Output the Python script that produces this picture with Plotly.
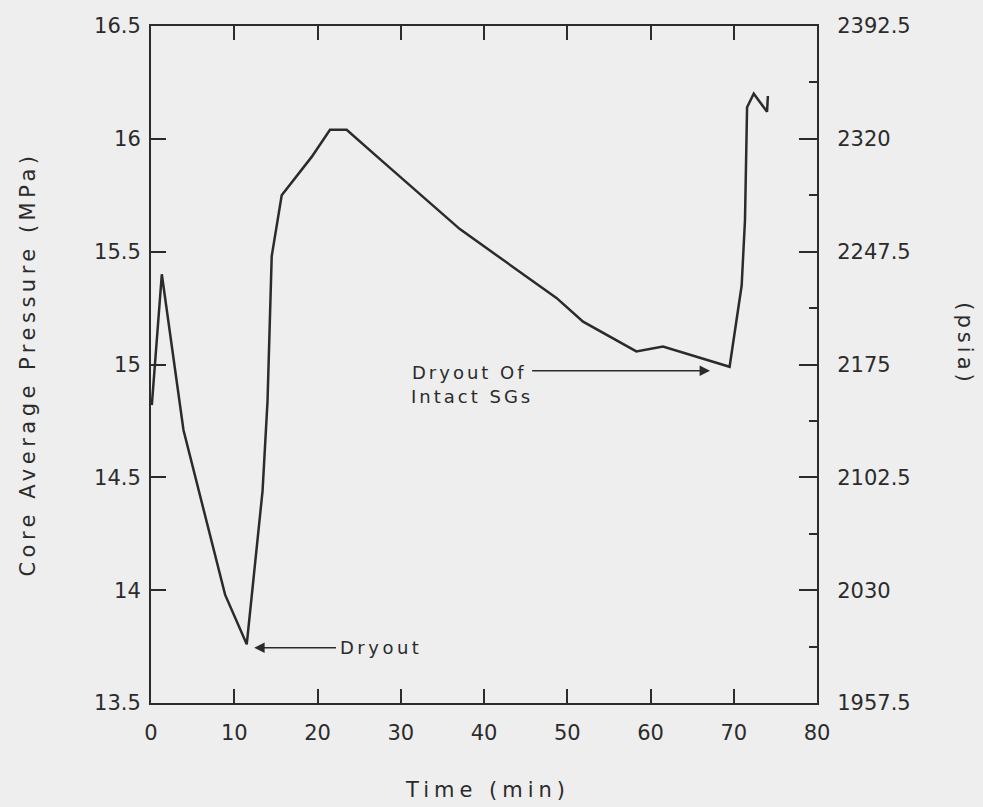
import plotly.graph_objects as go

# Core average pressure transient
time_min = [0.1, 1.3, 3.9, 8.9, 11.5, 13.4, 14.0, 14.5, 15.7, 19.3, 21.5, 23.5,
            27.5, 37.1, 48.7, 51.9, 58.3, 61.5, 69.5, 70.95, 71.35, 71.6, 72.4,
            74.0, 74.1]
pressure_mpa = [14.82, 15.40, 14.71, 13.98, 13.76, 14.44, 14.84, 15.48, 15.75,
                15.92, 16.04, 16.04, 15.91, 15.60, 15.295, 15.19, 15.058, 15.08,
                14.99, 15.35, 15.64, 16.14, 16.20, 16.12, 16.19]

MPA_TO_PSI = 145.0
pressure_psia = [p * MPA_TO_PSI for p in pressure_mpa]

x_ticks = [0, 10, 20, 30, 40, 50, 60, 70, 80]
mpa_ticks = [13.5, 14, 14.5, 15, 15.5, 16, 16.5]
mpa_labels = ["13.5", "14", "14.5", "15", "15.5", "16", "16.5"]
psia_ticks = [1957.5, 2030, 2102.5, 2175, 2247.5, 2320, 2392.5]
psia_labels = ["1957.5", "2030", "2102.5", "2175", "2247.5", "2320", "2392.5"]

INK = "#2b2b2b"
BG = "#eeeeee"
FONT = "DejaVu Sans"


def spaced(text, px):
    return f'<span style="letter-spacing:{px}px">{text}</span>'


fig = go.Figure()
fig.add_trace(go.Scatter(x=time_min, y=pressure_mpa, mode="lines",
                         line=dict(color=INK, width=2.5), hoverinfo="skip",
                         showlegend=False))
# same curve in psia, drawn invisibly so the right axis is tied to data
fig.add_trace(go.Scatter(x=time_min, y=pressure_psia, mode="lines", yaxis="y2",
                         line=dict(color="rgba(0,0,0,0)", width=0),
                         hoverinfo="skip", showlegend=False))

tick_font = dict(family=FONT, size=21, color=INK)

fig.update_layout(
    width=983, height=807,
    margin=dict(l=151, r=166, t=26, b=104),
    paper_bgcolor=BG, plot_bgcolor=BG,
    font=dict(family=FONT, color=INK),
    xaxis=dict(range=[0, 80], tickvals=x_ticks, ticktext=[str(v) for v in x_ticks],
               ticks="inside", ticklen=14, tickwidth=1.6, tickcolor=INK,
               showline=True, linecolor=INK, linewidth=2, mirror="ticks",
               showgrid=False, zeroline=False, tickfont=tick_font,
               ticklabelstandoff=10),
    yaxis=dict(range=[13.5, 16.5], tickvals=mpa_ticks, ticktext=mpa_labels,
               ticks="inside", ticklen=15, tickwidth=1.6, tickcolor=INK,
               showline=True, linecolor=INK, linewidth=2,
               showgrid=False, zeroline=False, tickfont=tick_font,
               ticklabelstandoff=4),
    yaxis2=dict(range=[1957.5, 2392.5], overlaying="y", side="right",
                tickvals=psia_ticks, ticktext=psia_labels,
                ticks="inside", ticklen=18, tickwidth=1.6, tickcolor=INK,
                minor=dict(dtick=36.25, tick0=1957.5, ticks="inside", ticklen=8,
                           tickwidth=1.6, tickcolor=INK, showgrid=False),
                showline=True, linecolor=INK, linewidth=2,
                showgrid=False, zeroline=False, tickfont=tick_font,
                ticklabelstandoff=14),
)

title_font = dict(family=FONT, size=21, color=INK)
fig.add_annotation(text=spaced("Core Average Pressure (MPa)", 4.5),
                   xref="paper", yref="paper", x=-0.186, y=0.5,
                   xanchor="center", yanchor="middle",
                   textangle=-90, showarrow=False, font=title_font)
fig.add_annotation(text=spaced("Time (min)", 5),
                   xref="paper", yref="paper", x=0.505, y=-0.128,
                   xanchor="center", yanchor="middle",
                   showarrow=False, font=title_font)
fig.add_annotation(text=spaced("(psia)", 4),
                   xref="paper", yref="paper", x=1.222, y=0.53,
                   xanchor="center", yanchor="middle",
                   textangle=90, showarrow=False, font=title_font)

note_font = dict(family=FONT, size=18, color=INK)
# Dryout arrow and label
fig.add_annotation(x=12.4, y=13.745, ax=22.4, ay=13.745, axref="x", ayref="y",
                   xref="x", yref="y", text="", showarrow=True,
                   arrowhead=2, arrowsize=1.3, arrowwidth=1.6, arrowcolor=INK)
fig.add_annotation(x=22.5, y=13.745, xref="x", yref="y", xanchor="left",
                   text=spaced("Dryout", 3.5), showarrow=False, font=note_font)
# Dryout of intact SGs arrow and label
fig.add_annotation(x=67.15, y=14.972, ax=45.6, ay=14.972, axref="x", ayref="y",
                   xref="x", yref="y", text="", showarrow=True,
                   arrowhead=2, arrowsize=1.3, arrowwidth=1.6, arrowcolor=INK)
fig.add_annotation(x=38.2, y=14.965, xref="x", yref="y", xanchor="center",
                   text=spaced("Dryout Of", 3), showarrow=False, font=note_font)
fig.add_annotation(x=38.6, y=14.857, xref="x", yref="y", xanchor="center",
                   text=spaced("Intact SGs", 3), showarrow=False, font=note_font)

fig.write_html("out.html")
